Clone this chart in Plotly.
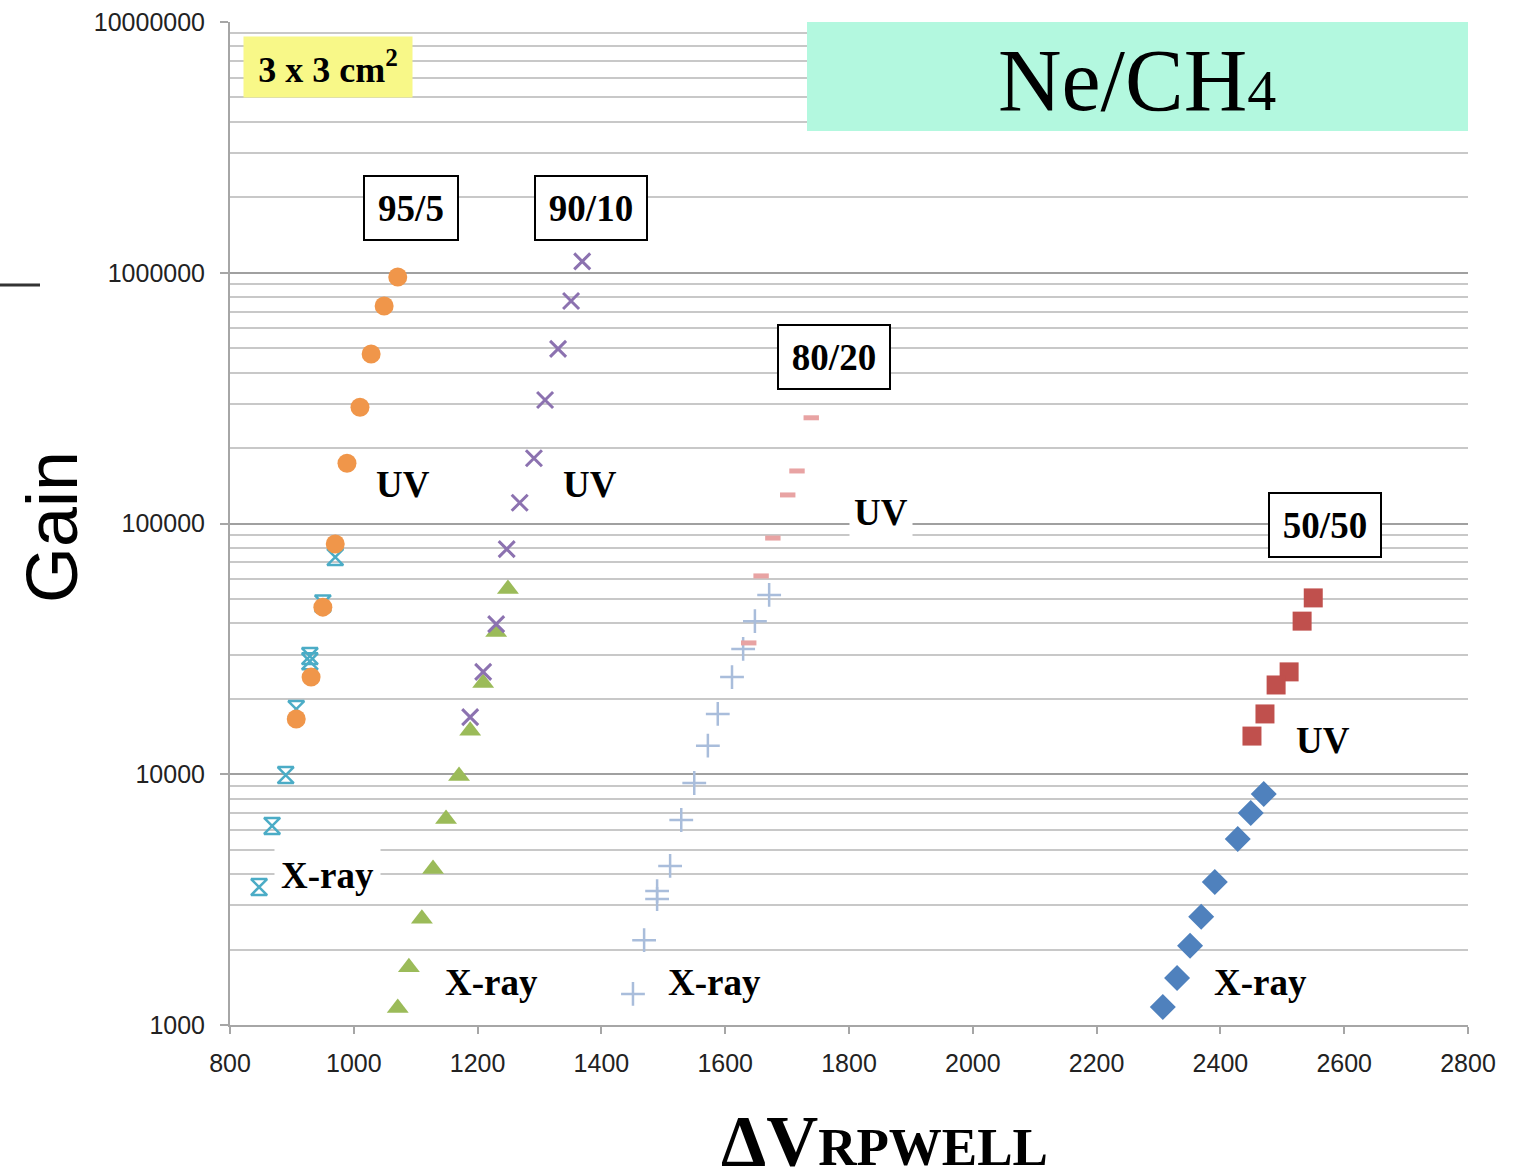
import plotly.graph_objects as go
import math

# ---------------- data ----------------
x95_uv = [1071, 1049, 1028, 1010, 989, 970, 950, 931, 907]
g95_uv = [961000, 737000, 474000, 291000, 174000, 82800, 46400, 24400, 16600]

x95_xr = [970, 950, 929, 929, 907, 890, 868, 847]
g95_xr = [73500, 48000, 29600, 28200, 18200, 9930, 6220, 3550]

x90_uv = [1369, 1351, 1330, 1309, 1291, 1268, 1247, 1230, 1209, 1188]
g90_uv = [1110000, 772000, 497000, 311000, 182000, 121000, 79000, 39700, 25600, 16900]

x90_xr = [1249, 1230, 1209, 1188, 1170, 1149, 1128, 1110, 1089, 1071]
g90_xr = [54800, 36900, 23100, 14900, 9840, 6630, 4190, 2650, 1700, 1170]

x80_uv = [1739, 1716, 1701, 1677, 1658, 1638]
g80_uv = [264000, 162000, 130000, 87500, 61800, 33400]

x80_xr = [1671, 1648, 1629, 1611, 1588, 1572, 1550, 1529, 1511, 1490, 1490, 1469, 1451]
g80_xr = [51900, 40800, 31600, 24400, 17400, 13000, 9230, 6570, 4310, 3420, 3180, 2180, 1330]

x50_uv = [2550, 2532, 2511, 2490, 2472, 2451]
g50_uv = [50500, 40800, 25600, 22700, 17400, 14200]

x50_xr = [2470, 2449, 2428, 2391, 2369, 2351, 2330, 2307]
g50_xr = [8340, 7000, 5520, 3720, 2700, 2070, 1540, 1180]

y_tickvals = [1000, 10000, 100000, 1000000, 10000000]
y_ticktext = ["1000", "10000", "100000", "1000000", "10000000"]
x_tickvals = [800, 1000, 1200, 1400, 1600, 1800, 2000, 2200, 2400, 2600, 2800]

mix_labels = ["95/5", "90/10", "80/20", "50/50"]
mix_label_pos = [(1092, 1.81e6), (1383, 1.81e6), (1776, 4.61e5), (2569, 9.86e4)]
uv_label_pos = [(1080, 1.43e5), (1382, 1.43e5), (1852, 1.11e5), (2566, 1.36e4)]
xray_label_pos = [(957, 3930), (1223, 1480), (1582, 1480), (2464, 1480)]

# ---------------- figure ----------------
W, H = 1525, 1173
PL, PT, PW, PH = 230, 22, 1238, 1003

def px(xp):  # page x -> paper x
    return (xp - PL) / PW

def py(yp):  # page y -> paper y
    return (PT + PH - yp) / PH

fig = go.Figure()

def add(x, y, symbol, color, size, line_w=0, line_c=None):
    fig.add_trace(go.Scatter(
        x=x, y=y, mode="markers", showlegend=False, hoverinfo="skip",
        marker=dict(symbol=symbol, size=size, color=color,
                    line=dict(width=line_w, color=line_c if line_c else color))))

# X-ray series first, UV on top
add(x95_xr, g95_xr, "hourglass-open", "#4BACC6", 16, 2.5)
add(x90_xr, g90_xr, "triangle-up", "#9BBB59", 19)
add(x80_xr, g80_xr, "cross-thin-open", "#A9BDDB", 17, 2.5)
add(x50_xr, g50_xr, "diamond", "#4F81BD", 20)

add(x95_uv, g95_uv, "circle", "#F0964A", 19)
add(x90_uv, g90_uv, "x-thin-open", "#8C72B0", 16, 3)
add(x80_uv, g80_uv, "line-ew-open", "#E8A3A3", 11, 5)
add(x50_uv, g50_uv, "square", "#C0504D", 19)

serif = "Liberation Serif"
ann = []
for txt, (x, y) in zip(mix_labels, mix_label_pos):
    ann.append(dict(x=x, y=math.log10(y), text="<b>%s</b>" % txt, showarrow=False,
                    xanchor="center", yanchor="middle",
                    font=dict(family=serif, size=37, color="black"),
                    bgcolor="white", bordercolor="black", borderwidth=2,
                    width=92 if len(txt) == 4 else 110, height=62, borderpad=0))
for i, (x, y) in enumerate(uv_label_pos):
    ann.append(dict(x=x, y=math.log10(y), text="<b>UV</b>", showarrow=False,
                    xanchor="center", yanchor="middle",
                    font=dict(family=serif, size=37, color="black"),
                    bgcolor="white" if i == 2 else "rgba(0,0,0,0)", borderpad=4))
for i, (x, y) in enumerate(xray_label_pos):
    ann.append(dict(x=x, y=math.log10(y), text="<b>X-ray</b>", showarrow=False,
                    xanchor="center", yanchor="middle",
                    font=dict(family=serif, size=37, color="black"),
                    bgcolor="white" if i == 0 else "rgba(0,0,0,0)", borderpad=6))

# area box
ann.append(dict(xref="paper", yref="paper", x=px(328), y=py(67),
                xanchor="center", yanchor="middle",
                text="<b>3 x 3 cm<sup>2</sup></b>",
                showarrow=False,
                font=dict(family=serif, size=36, color="black"),
                bgcolor="#F8F888", width=168, height=60, borderpad=0))
# gas title
ann.append(dict(xref="paper", yref="paper", x=px(1137), y=py(80),
                xanchor="center", yanchor="middle",
                text="Ne/CH<span style='font-size:58px'>4</span>", showarrow=False,
                font=dict(family=serif, size=88, color="black")))
# axis titles
ann.append(dict(xref="paper", yref="paper", x=px(52), y=py(527),
                xanchor="center", yanchor="middle",
                text="Gain", textangle=-90, showarrow=False,
                font=dict(family="Liberation Sans", size=72, color="black")))
ann.append(dict(xref="paper", yref="paper", x=px(884), y=py(1141),
                xanchor="center", yanchor="middle",
                text="<b>ΔV<span style='font-size:53px'>RPWELL</span></b>",
                showarrow=False,
                font=dict(family=serif, size=72, color="black")))

shapes = [
    dict(type="rect", xref="paper", yref="paper",
         x0=px(807), x1=1.0, y0=py(131), y1=1.0,
         fillcolor="#B3F8DF", line=dict(width=0), layer="above"),
    dict(type="line", xref="paper", yref="paper",
         x0=px(0), x1=px(40), y0=py(285), y1=py(285),
         line=dict(color="#333333", width=3)),
]

fig.update_layout(
    width=W, height=H,
    margin=dict(l=PL, r=W - PL - PW, t=PT, b=H - PT - PH, autoexpand=False),
    paper_bgcolor="white", plot_bgcolor="white",
    annotations=ann, shapes=shapes, hovermode=False,
    font=dict(family="Liberation Sans", color="#222222"),
)
fig.update_xaxes(range=[800, 2800], tickvals=x_tickvals, showgrid=False,
                 automargin=False,
                 showline=True, linecolor="#A6A6A6", linewidth=2,
                 ticks="outside", ticklen=7, tickcolor="#A6A6A6", tickwidth=2,
                 ticklabelstandoff=8,
                 tickfont=dict(size=25, color="#222222"), zeroline=False)
fig.update_yaxes(type="log", range=[3, 7.00005], tickvals=y_tickvals, ticktext=y_ticktext,
                 automargin=False,
                 showgrid=True, gridcolor="#A0A0A0", gridwidth=2,
                 showline=True, linecolor="#A6A6A6", linewidth=2,
                 ticks="outside", ticklen=8, tickcolor="#A6A6A6", tickwidth=2,
                 ticklabelstandoff=10,
                 tickfont=dict(size=25, color="#222222"), zeroline=False,
                 minor=dict(dtick="D1", showgrid=True, gridcolor="#C8C8C8",
                            gridwidth=2, ticks=""))

fig.write_html("out.html", config={"displayModeBar": False},
               post_script="document.body.style.margin='0';document.body.style.overflow='hidden';")
